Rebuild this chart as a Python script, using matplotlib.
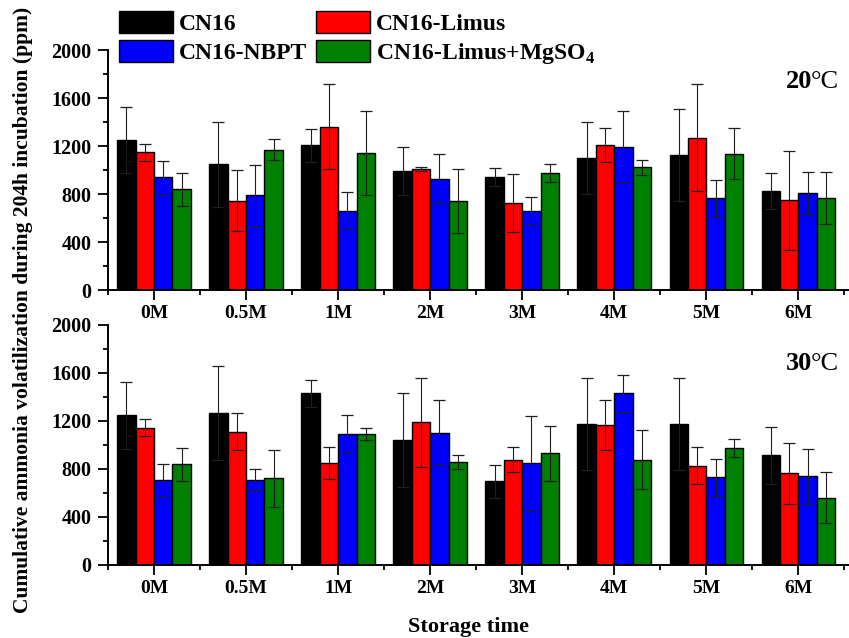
import matplotlib
matplotlib.use("Agg")
import matplotlib.pyplot as plt
from matplotlib.patches import Patch
from matplotlib.ticker import MultipleLocator, FixedLocator
import numpy as np

plt.rcParams['font.family'] = ['Liberation Serif', 'DejaVu Serif']
plt.rcParams['font.weight'] = 'bold'
plt.rcParams['mathtext.fontset'] = 'custom'
plt.rcParams['mathtext.rm'] = 'Liberation Serif:bold'
plt.rcParams['mathtext.bf'] = 'Liberation Serif:bold'

categories = ["0M", "0.5M", "1M", "2M", "3M", "4M", "5M", "6M"]
series = ["CN16", "CN16-Limus", "CN16-NBPT", "CN16-Limus+MgSO$_4$"]
colors = ["#000000", "#ff0000", "#0000ff", "#008000"]

# 20 degC
t20_cn16 = [1250, 1047, 1206, 995, 942, 1097, 1125, 825]
t20_limus = [1147, 742, 1361, 1006, 722, 1206, 1270, 747]
t20_nbpt = [939, 789, 661, 928, 661, 1194, 764, 806]
t20_mg = [839, 1170, 1145, 744, 978, 1022, 1136, 767]
t20_cn16_err = [272, 356, 139, 200, 78, 300, 386, 153]
t20_limus_err = [71, 254, 355, 17, 242, 140, 443, 411]
t20_nbpt_err = [140, 256, 153, 207, 118, 300, 155, 177]
t20_mg_err = [140, 88, 350, 265, 75, 64, 210, 215]

# 30 degC
t30_cn16 = [1247, 1270, 1431, 1042, 697, 1178, 1178, 914]
t30_limus = [1145, 1111, 847, 1189, 878, 1164, 828, 764]
t30_nbpt = [706, 708, 1094, 1103, 847, 1431, 731, 739]
t30_mg = [839, 722, 1094, 861, 931, 878, 978, 561]
t30_cn16_err = [278, 391, 114, 394, 139, 383, 383, 236]
t30_limus_err = [72, 153, 133, 372, 104, 209, 153, 253]
t30_nbpt_err = [139, 93, 156, 270, 395, 153, 153, 228]
t30_mg_err = [140, 239, 50, 57, 230, 247, 75, 211]

W, H = 849, 638
fig = plt.figure(figsize=(W / 100, H / 100), dpi=100)
fig.patch.set_facecolor("white")

def px_axes(x0, y_top, x1, y_bot):
    return [x0 / W, 1 - y_bot / H, (x1 - x0) / W, (y_bot - y_top) / H]

ax_top = fig.add_axes(px_axes(108, 50, 849, 290))
ax_bot = fig.add_axes(px_axes(108, 325, 849, 565))

panels = [
    (ax_top, [t20_cn16, t20_limus, t20_nbpt, t20_mg],
     [t20_cn16_err, t20_limus_err, t20_nbpt_err, t20_mg_err]),
    (ax_bot, [t30_cn16, t30_limus, t30_nbpt, t30_mg],
     [t30_cn16_err, t30_limus_err, t30_nbpt_err, t30_mg_err]),
]

x = np.arange(len(categories))
bw = 0.2
for ax, vals, errs in panels:
    for k in range(4):
        ax.bar(x + (k - 1.5) * bw, vals[k], width=bw, color=colors[k],
               edgecolor="black", linewidth=1.0, zorder=2)
        ax.errorbar(x + (k - 1.5) * bw, vals[k], yerr=errs[k], fmt="none",
                    ecolor="#1e1e1e", elinewidth=0.8, capsize=4.3,
                    capthick=0.9, zorder=3)
    ax.set_xlim(-0.5, 7.55)
    ax.set_ylim(0, 2000)
    ax.spines["top"].set_visible(False)
    ax.spines["right"].set_visible(False)
    ax.spines["left"].set_linewidth(1.4)
    ax.spines["bottom"].set_linewidth(1.4)
    ax.yaxis.set_major_locator(MultipleLocator(400))
    ax.yaxis.set_minor_locator(MultipleLocator(200))
    ax.set_xticks(x)
    ax.set_xticklabels(categories)
    ax.xaxis.set_minor_locator(FixedLocator(np.arange(-0.5, 8, 1.0)))
    ax.tick_params(axis="both", which="major", direction="out", length=7,
                   width=1.3, labelsize=14)
    ax.tick_params(axis="both", which="minor", direction="out", length=3.5,
                   width=1.3)
    ax.tick_params(axis="y", which="major", pad=5, labelsize=14.5)
    ax.tick_params(axis="x", which="major", pad=4)
    for lab in ax.get_xticklabels() + ax.get_yticklabels():
        lab.set_fontweight("bold")
    ax.set_facecolor("white")

# temperature labels
for ytop, t in [(88, "20"), (370, "30")]:
    fig.text(812 / W, 1 - ytop / H, t, ha="right", va="baseline",
             fontsize=19, fontweight="bold")
    fig.text(811 / W, 1 - ytop / H, "°C", ha="left", va="baseline",
             fontsize=19, fontweight="normal")

# axis labels
fig.text(23 / W, 1 - 310 / H,
         "Cumulative ammonia volatilization during 204h incubation (ppm)",
         rotation=90, ha="center", va="center", fontsize=15.5,
         fontweight="bold")
fig.text(468 / W, 1 - 627 / H, "Storage time", ha="center", va="center",
         fontsize=16, fontweight="bold")

# legend
handles = [Patch(facecolor=colors[k], edgecolor="black", linewidth=1.0)
           for k in range(4)]
order = [0, 2, 1, 3]
fig.legend([handles[i] for i in order], [series[i] for i in order],
           ncol=2, loc="upper left", bbox_to_anchor=(119 / W, 1 - 11 / H),
           frameon=False, borderpad=0, borderaxespad=0,
           handlelength=2.3, handleheight=1.05, handletextpad=0.25,
           labelspacing=0.22, columnspacing=0.35,
           prop={"family": "Liberation Serif", "weight": "bold", "size": 17})

fig.savefig("out.png", dpi=100, facecolor="white")
